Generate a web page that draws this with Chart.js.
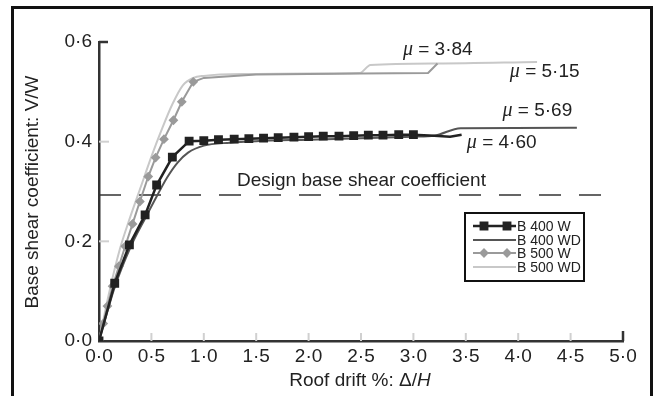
<!DOCTYPE html>
<html lang="en">
<head>
    <meta charset="UTF-8">
    <title>Base shear coefficient vs roof drift</title>
    <script src="https://cdn.jsdelivr.net/npm/chart.js@4.4.1/dist/chart.umd.min.js"></script>
    <style>
        body {
            margin: 0;
            background-color: white;
            overflow: hidden;
        }
        .frame {
            position: absolute;
            left: 11px;
            top: 6px;
            width: 636px;
            height: 420px;
            border: 3px solid #111;
            border-bottom: none;
        }
        #pushover {
            position: absolute;
            left: 0;
            top: 0;
        }
    </style>
</head>
<body>
    <div class="frame"></div>
    <canvas id="pushover" width="654" height="396"></canvas>

    <script>
        // tick values
        const xTicks = [0, 0.5, 1, 1.5, 2, 2.5, 3, 3.5, 4, 4.5, 5];
        const yTicks = [0, 0.2, 0.4, 0.6];

        // B 400 W (black squares)
        const b400wX = [0, 0.15, 0.29, 0.44, 0.55, 0.70, 0.86, 1.0, 1.14, 1.29, 1.43, 1.57, 1.71, 1.86, 2.0, 2.14, 2.29, 2.43, 2.57, 2.71, 2.86, 3.0, 3.2, 3.35, 3.46];
        const b400wY = [0, 0.116, 0.193, 0.253, 0.313, 0.369, 0.401, 0.402, 0.404, 0.405, 0.406, 0.407, 0.408, 0.409, 0.410, 0.411, 0.411, 0.412, 0.413, 0.413, 0.414, 0.414, 0.412, 0.410, 0.414];
        const b400wMarked = 22; // first n points carry a marker

        // B 400 WD
        const b400wdX = [0, 0.15, 0.3, 0.45, 0.55, 0.65, 0.75, 0.85, 1.0, 1.25, 1.5, 2.0, 2.5, 3.0, 3.2, 3.45, 4.56];
        const b400wdY = [0, 0.108, 0.188, 0.25, 0.29, 0.328, 0.358, 0.378, 0.392, 0.398, 0.401, 0.404, 0.407, 0.410, 0.412, 0.427, 0.428];

        // B 500 W (grey diamonds)
        const b500wX = [0, 0.04, 0.08, 0.13, 0.19, 0.25, 0.32, 0.39, 0.47, 0.54, 0.62, 0.71, 0.79, 0.90, 1.0, 1.5, 2.0, 2.5, 3.14, 3.23];
        const b500wY = [0, 0.035, 0.07, 0.11, 0.15, 0.19, 0.235, 0.28, 0.33, 0.368, 0.405, 0.443, 0.48, 0.52, 0.528, 0.535, 0.536, 0.537, 0.538, 0.557];
        const b500wMarked = 14;

        // B 500 WD
        const b500wdX = [0, 0.1, 0.2, 0.3, 0.4, 0.5, 0.6, 0.7, 0.8, 0.9, 1.0, 1.5, 2.0, 2.49, 2.59, 3.23, 4.18];
        const b500wdY = [0, 0.1, 0.185, 0.25, 0.31, 0.37, 0.425, 0.475, 0.513, 0.528, 0.532, 0.536, 0.537, 0.538, 0.554, 0.557, 0.560];

        // design base shear coefficient
        const designX = [0, 4.83];
        const designY = [0.293, 0.293];

        // ductility labels [text value, x, y]
        const muLabels = [
            ['3·84', 2.90, 0.584],
            ['5·15', 3.92, 0.540],
            ['5·69', 3.85, 0.463],
            ['4·60', 3.51, 0.397]
        ];

        const toPoints = (xs, ys) => xs.map((x, i) => ({ x: x, y: ys[i] }));
        const fmt = v => v.toFixed(1).replace('.', '·');
        const SANS = '"Liberation Sans", Arial, sans-serif';
        const FS = 19;

        const insideTicks = {
            id: 'insideTicks',
            afterDraw(chart) {
                const ctx = chart.ctx;
                const xs = chart.scales.x, ys = chart.scales.y;
                const a = chart.chartArea;
                ctx.save();
                yTicks.forEach((v, i) => {
                    if (v === 0) return;
                    const last = i === yTicks.length - 1;
                    const py = ys.getPixelForValue(v);
                    ctx.strokeStyle = last ? '#333' : '#d0d0d0';
                    ctx.lineWidth = last ? 2.5 : 2;
                    ctx.beginPath();
                    ctx.moveTo(a.left, py);
                    ctx.lineTo(a.left + (last ? 9 : 10), py);
                    ctx.stroke();
                });
                xTicks.forEach((v, i) => {
                    if (v === 0) return;
                    const last = i === xTicks.length - 1;
                    const px = xs.getPixelForValue(v);
                    ctx.strokeStyle = last ? '#333' : '#d0d0d0';
                    ctx.lineWidth = last ? 2.5 : 2;
                    ctx.beginPath();
                    ctx.moveTo(px, a.bottom);
                    ctx.lineTo(px, a.bottom - (last ? 10 : 8));
                    ctx.stroke();
                });
                ctx.restore();
            }
        };

        const textLabels = {
            id: 'textLabels',
            afterDraw(chart) {
                const ctx = chart.ctx;
                const xs = chart.scales.x, ys = chart.scales.y;
                ctx.save();
                ctx.fillStyle = '#222';
                ctx.textBaseline = 'middle';

                // mu labels
                muLabels.forEach(([val, x, y]) => {
                    let px = xs.getPixelForValue(x);
                    const py = ys.getPixelForValue(y);
                    ctx.font = 'italic 20px "Liberation Serif", serif';
                    ctx.textAlign = 'left';
                    ctx.fillText('μ', px, py);
                    px += ctx.measureText('μ').width;
                    ctx.font = FS + 'px ' + SANS;
                    ctx.fillText(' = ' + val, px, py);
                });

                // design line caption
                ctx.font = FS + 'px ' + SANS;
                ctx.fillText('Design base shear coefficient', xs.getPixelForValue(1.317), ys.getPixelForValue(0.321));

                // x title with italic H
                const p1 = 'Roof drift %: Δ/';
                ctx.font = 'italic ' + FS + 'px ' + SANS;
                const wH = ctx.measureText('H').width;
                ctx.font = FS + 'px ' + SANS;
                const w1 = ctx.measureText(p1).width;
                const sx = 360 - (w1 + wH) / 2;
                ctx.fillText(p1, sx, 381);
                ctx.font = 'italic ' + FS + 'px ' + SANS;
                ctx.fillText('H', sx + w1, 381);

                // y title
                ctx.translate(33, 192);
                ctx.rotate(-Math.PI / 2);
                ctx.textAlign = 'center';
                ctx.font = FS + 'px ' + SANS;
                ctx.fillText('Base shear coefficient: V/W', 0, 0);
                ctx.restore();
            }
        };

        const boxLegend = {
            id: 'boxLegend',
            afterDraw(chart) {
                const ctx = chart.ctx;
                ctx.save();
                ctx.fillStyle = 'white';
                ctx.fillRect(465, 213, 119, 68);
                ctx.strokeStyle = '#111';
                ctx.lineWidth = 2;
                ctx.strokeRect(465, 213, 119, 68);
                const rows = [226, 240, 253, 267];
                chart.data.datasets.slice(0, 4).forEach((ds, i) => {
                    const y = rows[i];
                    ctx.strokeStyle = ds.borderColor;
                    ctx.lineWidth = ds.borderWidth;
                    ctx.beginPath();
                    ctx.moveTo(473, y);
                    ctx.lineTo(516, y);
                    ctx.stroke();
                    if (ds.legendMarker) {
                        [484, 507].forEach(mx => {
                            ctx.fillStyle = ds.pointBackgroundColor;
                            ctx.strokeStyle = ds.borderColor;
                            Chart.helpers.drawPoint(ctx, {
                                pointStyle: ds.legendMarker,
                                radius: ds.legendRadius,
                                borderWidth: 1
                            }, mx, y);
                        });
                    }
                    ctx.fillStyle = '#222';
                    ctx.font = '14px ' + SANS;
                    ctx.textAlign = 'left';
                    ctx.textBaseline = 'middle';
                    ctx.fillText(ds.label, 517, y + 1);
                });
                ctx.restore();
            }
        };

        const markerRadius = (n, total, r) => Array.from({ length: total }, (_, i) => i < n ? r : 0);

        const chart = new Chart(document.getElementById('pushover').getContext('2d'), {
            type: 'line',
            data: {
                datasets: [
                    {
                        label: 'B 400 W',
                        data: toPoints(b400wX, b400wY),
                        borderColor: '#222',
                        backgroundColor: '#222',
                        pointBackgroundColor: '#222',
                        borderWidth: 2.5,
                        pointStyle: 'rect',
                        pointRadius: markerRadius(b400wMarked, b400wX.length, 4.5),
                        legendMarker: 'rect',
                        legendRadius: 4.5,
                        order: 1
                    },
                    {
                        label: 'B 400 WD',
                        data: toPoints(b400wdX, b400wdY),
                        borderColor: '#555',
                        borderWidth: 2,
                        pointRadius: 0,
                        cubicInterpolationMode: 'monotone',
                        order: 2
                    },
                    {
                        label: 'B 500 W',
                        data: toPoints(b500wX, b500wY),
                        borderColor: '#9a9a9a',
                        backgroundColor: '#9a9a9a',
                        pointBackgroundColor: '#9a9a9a',
                        borderWidth: 2,
                        pointStyle: 'rectRot',
                        pointRadius: markerRadius(b500wMarked, b500wX.length, 3.5),
                        legendMarker: 'rectRot',
                        legendRadius: 3.5,
                        order: 3
                    },
                    {
                        label: 'B 500 WD',
                        data: toPoints(b500wdX, b500wdY),
                        borderColor: '#c8c8c8',
                        borderWidth: 2,
                        pointRadius: 0,
                        cubicInterpolationMode: 'monotone',
                        order: 4
                    },
                    {
                        label: 'design',
                        data: toPoints(designX, designY),
                        borderColor: '#333',
                        borderWidth: 1.5,
                        borderDash: [22, 18],
                        pointRadius: 0,
                        order: 5
                    }
                ]
            },
            options: {
                responsive: false,
                animation: false,
                layout: {
                    padding: { left: 0, top: 42, right: 31, bottom: 0 }
                },
                plugins: {
                    legend: { display: false },
                    tooltip: { enabled: false }
                },
                scales: {
                    x: {
                        type: 'linear',
                        min: 0,
                        max: 5,
                        afterFit: s => { s.height = 55; },
                        afterBuildTicks: s => { s.ticks = xTicks.map(v => ({ value: v })); },
                        grid: { display: false, drawTicks: false },
                        border: { color: '#333', width: 2.5 },
                        ticks: {
                            padding: 4,
                            color: '#222',
                            font: { family: SANS, size: FS },
                            callback: v => fmt(v)
                        }
                    },
                    y: {
                        min: 0,
                        max: 0.6,
                        afterFit: s => { s.width = 99; },
                        afterBuildTicks: s => { s.ticks = yTicks.map(v => ({ value: v })); },
                        grid: { display: false, drawTicks: false },
                        border: { color: '#333', width: 2.5 },
                        ticks: {
                            padding: 7,
                            color: '#222',
                            font: { family: SANS, size: FS },
                            callback: v => fmt(v)
                        }
                    }
                }
            },
            plugins: [insideTicks, textLabels, boxLegend]
        });
    </script>
</body>
</html>
